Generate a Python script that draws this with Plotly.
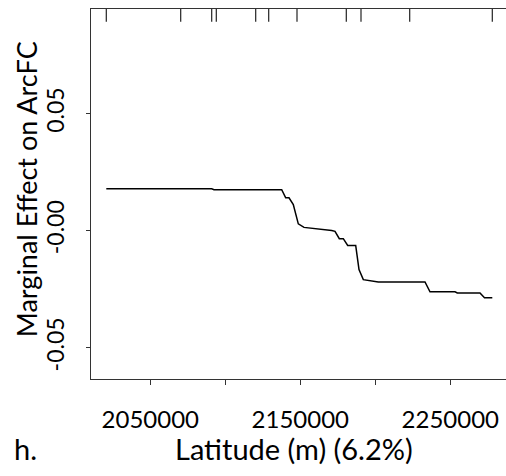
import plotly.graph_objects as go

# Partial dependence of ArcFC on latitude
latitude = [2020667, 2090933, 2092467, 2137600, 2140267, 2142467, 2145333, 2148667,
            2152467, 2158667, 2160933, 2170933, 2173133, 2176000, 2178667, 2181600,
            2186933, 2189133, 2192000, 2202000, 2233133, 2236467, 2253133, 2254667,
            2269800, 2272800, 2278000]
effect = [0.0179, 0.0179, 0.0175, 0.0175, 0.0140, 0.0140, 0.0111, 0.0029,
          0.0014, 0.0010, 0.0006, 0.0001, -0.0003, -0.0034, -0.0034, -0.0063,
          -0.0063, -0.0166, -0.0209, -0.0219, -0.0219, -0.0261, -0.0261, -0.0266,
          -0.0266, -0.0286, -0.0286]

# deciles of latitude (rug marks on top)
rug_x = [2020667, 2070267, 2090933, 2094000, 2120267, 2128933, 2147800,
         2180667, 2190467, 2222933, 2278000]

x_tickvals = [2050000, 2100000, 2150000, 2200000, 2250000]
x_ticktext = ["2050000", "", "2150000", "", "2250000"]
y_tickvals = [-0.05, 0.0, 0.05]
y_ticktext = ["-0.05", "-0.00", "0.05"]

x_range = [2010467, 2287133]
y_range = [-0.0633, 0.0946]
rug_len = 0.0054

FONT = "Lato"

fig = go.Figure()
fig.add_trace(go.Scatter(x=latitude, y=effect, mode="lines",
                         line=dict(color="black", width=1.5), showlegend=False,
                         hoverinfo="skip"))

rx, ry = [], []
for v in rug_x:
    rx += [v, v, None]
    ry += [y_range[1], y_range[1] - rug_len, None]
fig.add_trace(go.Scatter(x=rx, y=ry, mode="lines",
                         line=dict(color="#222", width=1.2), showlegend=False,
                         hoverinfo="skip"))

fig.update_layout(
    width=506, height=476,
    margin=dict(l=91, r=0, t=9, b=96.5),
    paper_bgcolor="white", plot_bgcolor="white",
    font=dict(family=FONT, color="black"),
    xaxis=dict(range=x_range, tickvals=x_tickvals, ticktext=x_ticktext,
               showgrid=False, zeroline=False, showline=True, mirror=True,
               linecolor="#333", linewidth=1.3, ticks="outside", ticklen=5,
               tickcolor="#333", tickfont=dict(size=24, family=FONT),
               ticklabelstandoff=14),
    yaxis=dict(range=y_range, tickvals=y_tickvals, ticktext=y_ticktext,
               showgrid=False, zeroline=False, showline=True, mirror=False,
               linecolor="#333", linewidth=1.3, ticks="outside", ticklen=4,
               tickcolor="#333", tickangle=-90, tickfont=dict(size=23, family=FONT),
               ticklabelstandoff=13),
    annotations=[
        dict(text="Latitude (m) (6.2%)", xref="paper", yref="paper",
             x=(294 - 91) / 415, y=-(449 - 379.5) / 370.5,
             xanchor="center", yanchor="middle", showarrow=False,
             font=dict(size=29, family=FONT)),
        dict(text="h.", xref="paper", yref="paper",
             x=(25 - 91) / 415, y=-(449 - 379.5) / 370.5,
             xanchor="center", yanchor="middle", showarrow=False,
             font=dict(size=29, family=FONT)),
        dict(text="Marginal Effect on ArcFC", xref="paper", yref="paper",
             x=(26.5 - 91) / 415, y=(379.5 - 190) / 370.5, textangle=-90,
             xanchor="center", yanchor="middle", showarrow=False,
             font=dict(size=27, family=FONT)),
    ],
)

fig.write_html("out.html")
